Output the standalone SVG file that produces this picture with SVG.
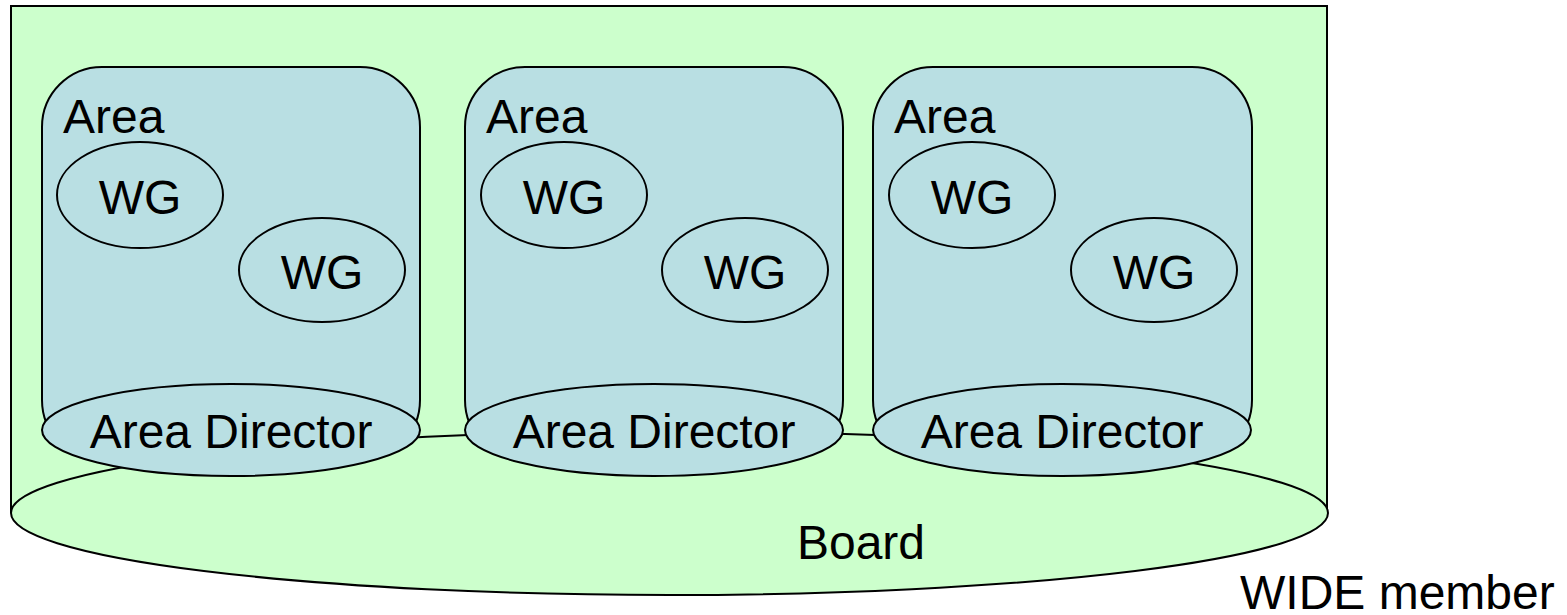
<svg xmlns="http://www.w3.org/2000/svg" width="1567" height="615" viewBox="0 0 1567 615">
  <style>
    .shape { stroke: #000; stroke-width: 2; }
    .wide { fill: #CCFFCC; }
    .area { fill: #B9DFE3; }
    .wg { fill: #B9DFE3; }
    text { font-family: "Liberation Sans", Arial, sans-serif; font-size: 48px; fill: #000; }
    .mid { text-anchor: middle; }
  </style>

  <rect width="1567" height="615" fill="#fff"/>

  <!-- WIDE member cylinder: body and Board base -->
  <g id="wide">
    <path class="shape wide" d="M11,513 V6 H1327 V513"/>
  </g>
  <g id="board">
    <ellipse class="shape wide" cx="669.5" cy="513" rx="658.5" ry="82"/>
    <text class="mid" x="861" y="559">Board</text>
  </g>

  <!-- Area 1 -->
  <g id="area1">
    <rect class="shape area" x="42" y="67" width="378" height="393" rx="60" ry="60"/>
    <text x="63" y="133">Area</text>
  </g>
  <g id="area1-wg1">
    <ellipse class="shape wg" cx="140" cy="195" rx="83" ry="53"/>
    <text class="mid" x="140" y="214">WG</text>
  </g>
  <g id="area1-wg2">
    <ellipse class="shape wg" cx="322" cy="270" rx="83" ry="52"/>
    <text class="mid" x="322" y="289">WG</text>
  </g>
  <g id="area1-director">
    <ellipse class="shape area" cx="231" cy="430" rx="189" ry="46"/>
    <text class="mid" x="231" y="448">Area Director</text>
  </g>

  <!-- Area 2 -->
  <g id="area2">
    <rect class="shape area" x="465" y="67" width="378" height="393" rx="60" ry="60"/>
    <text x="486" y="133">Area</text>
  </g>
  <g id="area2-wg1">
    <ellipse class="shape wg" cx="564" cy="195" rx="83" ry="53"/>
    <text class="mid" x="564" y="214">WG</text>
  </g>
  <g id="area2-wg2">
    <ellipse class="shape wg" cx="745" cy="270" rx="83" ry="52"/>
    <text class="mid" x="745" y="289">WG</text>
  </g>
  <g id="area2-director">
    <ellipse class="shape area" cx="654" cy="430" rx="189" ry="46"/>
    <text class="mid" x="654" y="448">Area Director</text>
  </g>

  <!-- Area 3 -->
  <g id="area3">
    <rect class="shape area" x="873" y="67" width="379" height="393" rx="60" ry="60"/>
    <text x="894" y="133">Area</text>
  </g>
  <g id="area3-wg1">
    <ellipse class="shape wg" cx="972" cy="195" rx="83" ry="53"/>
    <text class="mid" x="972" y="214">WG</text>
  </g>
  <g id="area3-wg2">
    <ellipse class="shape wg" cx="1154" cy="270" rx="83" ry="52"/>
    <text class="mid" x="1154" y="289">WG</text>
  </g>
  <g id="area3-director">
    <ellipse class="shape area" cx="1062" cy="430" rx="189" ry="46"/>
    <text class="mid" x="1062" y="448">Area Director</text>
  </g>

  <!-- Caption -->
  <g id="caption">
    <text x="1240" y="609">WIDE member</text>
  </g>
</svg>
